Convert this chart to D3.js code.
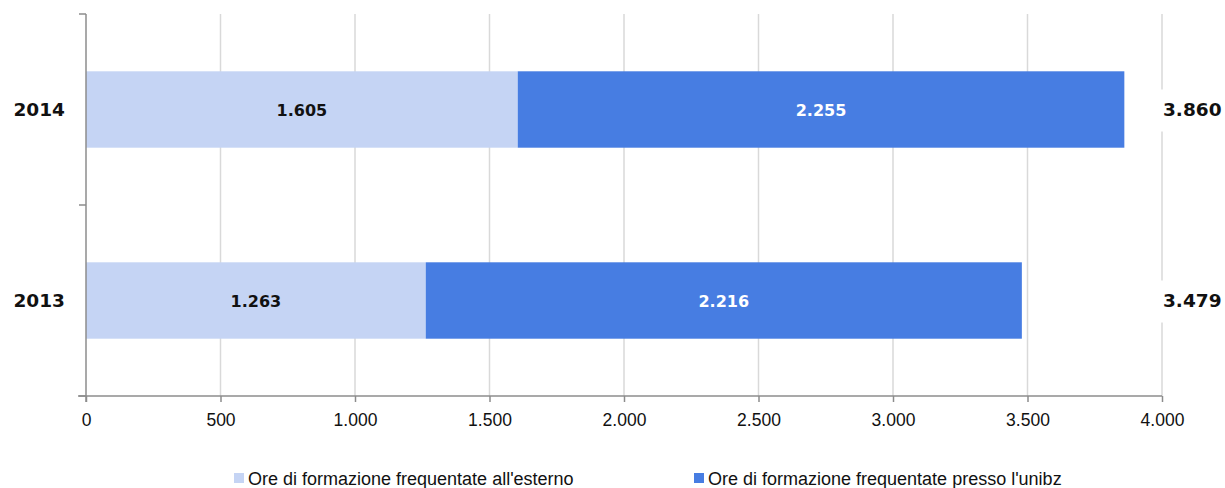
<!DOCTYPE html>
<html>
<head>
<meta charset="utf-8">
<script src="https://cdn.jsdelivr.net/npm/d3@7"></script>
<style>
  html, body { margin: 0; padding: 0; background: #fff; }
  svg { display: block; }
</style>
</head>
<body>
<svg id="chart" width="1225" height="488"></svg>
<script>
// Training hours, stacked by where they were attended
const years = ["2014", "2013"];
const esterno = [1605, 1263];   // Ore di formazione frequentate all'esterno
const unibz = [2255, 2216];     // Ore di formazione frequentate presso l'unibz
const totals = [3860, 3479];
const xTicks = [0, 500, 1000, 1500, 2000, 2500, 3000, 3500, 4000];
const seriesNames = [
  "Ore di formazione frequentate all'esterno",
  "Ore di formazione frequentate presso l'unibz"
];
const seriesColors = ["#c5d4f4", "#477de2"];

const fmt = d3.formatLocale({ decimal: ",", thousands: ".", grouping: [3], currency: ["", "€"] }).format(",d");

const svg = d3.select("#chart");
const plotLeft = 86, plotRight = 1162, plotTop = 14, plotBottom = 396;

const x = d3.scaleLinear().domain([0, 4000]).range([plotLeft, plotRight]);
const y = d3.scaleBand().domain(years).range([plotTop, plotBottom]).paddingInner(0.6).paddingOuter(0.3);

// vertical gridlines
svg.append("g").selectAll("line").data(xTicks.slice(1)).join("line")
  .attr("x1", d => x(d)).attr("x2", d => x(d))
  .attr("y1", plotTop).attr("y2", plotBottom)
  .attr("stroke", "#d9d9d9").attr("stroke-width", 1.5);

// stacked bars
const rows = years.map((yr, i) => ({ year: yr, esterno: esterno[i], unibz: unibz[i], total: totals[i] }));
const stack = d3.stack().keys(["esterno", "unibz"])(rows);

const layers = svg.append("g").selectAll("g").data(stack).join("g")
  .attr("fill", (d, i) => seriesColors[i]);
layers.selectAll("rect").data(d => d).join("rect")
  .attr("x", d => x(d[0]))
  .attr("width", d => x(d[1]) - x(d[0]))
  .attr("y", d => y(d.data.year))
  .attr("height", y.bandwidth());

// value labels inside segments
const labelColors = ["#111", "#fff"];
stack.forEach((layer, i) => {
  svg.append("g").selectAll("text").data(layer).join("text")
    .attr("x", d => (x(d[0]) + x(d[1])) / 2)
    .attr("y", d => y(d.data.year) + y.bandwidth() / 2 + 1.5)
    .attr("text-anchor", "middle")
    .attr("dominant-baseline", "middle")
    .attr("font-family", "DejaVu Sans, Verdana, sans-serif")
    .attr("font-weight", "bold")
    .attr("font-size", 16)
    .attr("fill", labelColors[i])
    .text(d => fmt(d[1] - d[0]));
});

// totals at the right, on a white plate over the gridline
const tot = svg.append("g").selectAll("g").data(rows).join("g")
  .attr("transform", d => `translate(${x(4000)},${y(d.year) + y.bandwidth() / 2 + 1})`);
tot.append("rect")
  .attr("x", -4).attr("y", -21).attr("width", 66).attr("height", 42)
  .attr("fill", "#fff");
tot.append("text")
  .attr("x", 1).attr("y", 0)
  .attr("dominant-baseline", "middle")
  .attr("font-family", "DejaVu Sans, Verdana, sans-serif")
  .attr("font-weight", "bold")
  .attr("font-size", 18.5)
  .attr("fill", "#111")
  .text(d => fmt(d.total));

// category labels
svg.append("g").selectAll("text").data(years).join("text")
  .attr("x", 65)
  .attr("y", d => y(d) + y.bandwidth() / 2 + 1)
  .attr("text-anchor", "end")
  .attr("dominant-baseline", "middle")
  .attr("font-family", "DejaVu Sans, Verdana, sans-serif")
  .attr("font-weight", "bold")
  .attr("font-size", 18.5)
  .attr("fill", "#111")
  .text(d => d);

// x axis
const xAxis = svg.append("g")
  .attr("transform", `translate(0,${plotBottom})`)
  .call(d3.axisBottom(x).tickValues(xTicks).tickFormat(fmt).tickSize(6).tickSizeOuter(0));
xAxis.select(".domain").attr("stroke", "#8c8c8c").attr("stroke-width", 1.5)
  .attr("d", `M${plotLeft - 8},0H${plotRight}`);
xAxis.selectAll(".tick line").attr("stroke", "#8c8c8c").attr("stroke-width", 1.5);
xAxis.selectAll(".tick text")
  .attr("dy", 0).attr("y", 25)
  .attr("dominant-baseline", "middle")
  .attr("font-family", "Liberation Sans, Arial, sans-serif")
  .attr("font-size", 17.5)
  .attr("fill", "#111");

// y axis with category boundary ticks
const yBounds = [plotTop, (plotTop + plotBottom) / 2, plotBottom];
const yAxis = svg.append("g");
yAxis.append("line")
  .attr("x1", plotLeft).attr("x2", plotLeft).attr("y1", plotTop).attr("y2", plotBottom + 6)
  .attr("stroke", "#8c8c8c").attr("stroke-width", 1.5);
yAxis.selectAll("line.t").data(yBounds).join("line").attr("class", "t")
  .attr("x1", plotLeft - 7).attr("x2", plotLeft)
  .attr("y1", d => d).attr("y2", d => d)
  .attr("stroke", "#8c8c8c").attr("stroke-width", 1.5);

// legend
const legendX = [234, 694];
const legend = svg.append("g").selectAll("g").data(seriesNames).join("g")
  .attr("transform", (d, i) => `translate(${legendX[i]},473)`);
legend.append("rect")
  .attr("width", 10).attr("height", 10)
  .attr("fill", (d, i) => seriesColors[i]);
legend.append("text")
  .attr("x", 14).attr("y", 7)
  .attr("dominant-baseline", "middle")
  .attr("font-family", "Liberation Sans, Arial, sans-serif")
  .attr("font-size", 18)
  .attr("fill", "#111")
  .text(d => d);
</script>
</body>
</html>
